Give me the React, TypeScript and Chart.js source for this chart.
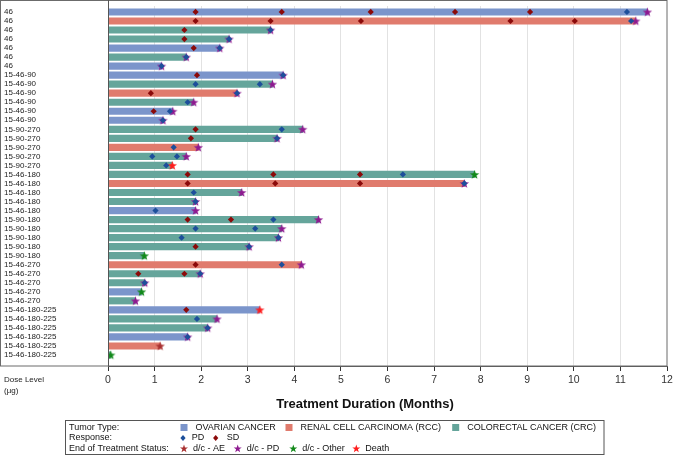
import React, { useEffect, useRef } from "react";
import { Chart, registerables } from "chart.js";

Chart.register(...registerables);

// ---------- DATA ----------
const doseLabels = [
  "46", "46", "46", "46", "46", "46", "46",
  "15-46-90", "15-46-90", "15-46-90", "15-46-90", "15-46-90", "15-46-90",
  "15-90-270", "15-90-270", "15-90-270", "15-90-270", "15-90-270",
  "15-46-180", "15-46-180", "15-46-180", "15-46-180", "15-46-180",
  "15-90-180", "15-90-180", "15-90-180", "15-90-180", "15-90-180",
  "15-46-270", "15-46-270", "15-46-270", "15-46-270", "15-46-270",
  "15-46-180-225", "15-46-180-225", "15-46-180-225", "15-46-180-225", "15-46-180-225", "15-46-180-225",
];

// O = ovarian, R = RCC, C = CRC
const tumorTypes = [
  "O", "R", "C", "C", "O", "C", "O",
  "O", "C", "R", "C", "O", "O",
  "C", "C", "R", "C", "C",
  "C", "R", "C", "C", "O",
  "C", "C", "C", "C", "C",
  "R", "C", "C", "O", "C",
  "O", "C", "C", "O", "R", "C",
];

const durations = [
  11.58, 11.33, 3.49, 2.6, 2.4, 1.68, 1.15,
  3.76, 3.53, 2.77, 1.84, 1.39, 1.18,
  4.18, 3.63, 1.94, 1.68, 1.38,
  7.87, 7.65, 2.87, 1.88, 1.88,
  4.52, 3.73, 3.66, 3.03, 0.78,
  4.15, 1.98, 0.79, 0.72, 0.59,
  3.26, 2.34, 2.14, 1.71, 1.12, 0.06,
];

// AE = d/c - AE, PD = d/c - PD, OT = d/c - Other, DE = Death
const endStatus = [
  "PD", "PD", "PD", "PD", "PD", "PD", "PD",
  "PD", "PD", "PD", "PD", "PD", "PD",
  "PD", "PD", "PD", "PD", "DE",
  "OT", "PD", "PD", "PD", "PD",
  "PD", "PD", "PD", "PD", "OT",
  "PD", "PD", "PD", "OT", "PD",
  "DE", "PD", "PD", "PD", "AE", "OT",
];

const pdTimes: number[][] = [
  [11.14], [11.23], [3.49], [2.6], [2.4], [1.68], [1.15],
  [3.76], [1.88, 3.26], [2.77], [1.71], [1.33], [1.18],
  [3.73], [3.63], [1.41], [0.95, 1.48], [1.25],
  [6.33], [7.65], [1.84], [1.88], [1.02],
  [3.55], [1.88, 3.16], [1.58, 3.66], [3.03], [],
  [3.73], [1.98], [0.79], [], [],
  [], [1.91], [2.14], [1.71], [], [],
];

const sdTimes: number[][] = [
  [1.88, 3.73, 5.64, 7.45, 9.06], [1.88, 3.49, 5.43, 8.64, 10.02], [1.64], [1.64], [1.84], [], [],
  [1.91], [], [0.92], [], [0.98], [],
  [1.88], [1.78], [], [], [],
  [1.71, 3.55, 5.41], [1.71, 3.59, 5.41], [], [], [],
  [1.71, 2.64], [], [], [1.88], [],
  [1.88], [0.65, 1.64], [], [], [],
  [1.68], [], [], [], [], [],
];

const xTickValues = [0, 1, 2, 3, 4, 5, 6, 7, 8, 9, 10, 11, 12];

// ---------- STYLE ----------
const tumorColors: Record<string, string> = { O: "#7b95cb", R: "#e07b6d", C: "#65a59b" };
const tumorNames: Record<string, string> = {
  O: "OVARIAN CANCER",
  R: "RENAL CELL CARCINOMA (RCC)",
  C: "COLORECTAL CANCER (CRC)",
};
const PD_COLOR = "#1d4f9b";
const SD_COLOR = "#8b0a0a";
const statusColors: Record<string, string> = { AE: "#a83030", PD: "#8e1a90", OT: "#12891a", DE: "#ff1c1c" };
const statusNames: Record<string, string> = { AE: "d/c - AE", PD: "d/c - PD", OT: "d/c - Other", DE: "Death" };
const FONT = "'Liberation Sans', Arial, sans-serif";

function drawStarPath(ctx: CanvasRenderingContext2D, cx: number, cy: number, ro: number, ri: number) {
  ctx.beginPath();
  for (let i = 0; i < 10; i++) {
    const r = i % 2 === 0 ? ro : ri;
    const a = -Math.PI / 2 + (i * Math.PI) / 5;
    const x = cx + r * Math.cos(a);
    const y = cy + r * Math.sin(a);
    if (i === 0) ctx.moveTo(x, y);
    else ctx.lineTo(x, y);
  }
  ctx.closePath();
}

function makeStar(color: string, size = 11, ro = 4.9, ri = 2.0) {
  const c = document.createElement("canvas");
  c.width = size;
  c.height = size;
  const ctx = c.getContext("2d")!;
  ctx.fillStyle = color;
  drawStarPath(ctx, size / 2, size / 2 + 0.4, ro, ri);
  ctx.fill();
  return c;
}

export default function App() {
  const ref = useRef<HTMLCanvasElement | null>(null);

  useEffect(() => {
    if (!ref.current) return;
    const idx = doseLabels.map((_, i) => i);

    const barData = idx.map((i) => ({ x: durations[i], y: i }));
    const pdData: { x: number; y: number }[] = [];
    const sdData: { x: number; y: number }[] = [];
    idx.forEach((i) => {
      pdTimes[i].forEach((t) => pdData.push({ x: t, y: i }));
      sdTimes[i].forEach((t) => sdData.push({ x: t, y: i }));
    });

    const statusDatasets = ["AE", "PD", "OT", "DE"].map((s) => ({
      type: "scatter" as const,
      label: statusNames[s],
      data: idx.filter((i) => endStatus[i] === s).map((i) => ({ x: durations[i], y: i })),
      pointStyle: makeStar(statusColors[s]) as any,
      pointRadius: 5,
      order: 1,
    }));

    const framePlugin = {
      id: "framePlugin",
      afterDraw(chart: any) {
        const ctx: CanvasRenderingContext2D = chart.ctx;
        const ca = chart.chartArea;
        ctx.save();
        // outer frame
        ctx.strokeStyle = "#6b6b6b";
        ctx.lineWidth = 1;
        ctx.strokeRect(0.5, 0.5, ca.right - 0.5, ca.bottom - 0.5);
        ctx.strokeStyle = "#555";
        ctx.beginPath();
        ctx.moveTo(ca.left + 0.5, 0);
        ctx.lineTo(ca.left + 0.5, ca.bottom);
        ctx.stroke();

        // dose level label
        ctx.fillStyle = "#222";
        ctx.font = `8px ${FONT}`;
        ctx.textAlign = "left";
        ctx.textBaseline = "middle";
        ctx.fillText("Dose Level", 4, 380);
        ctx.fillText("(µg)", 4, 391);

        // axis title
        ctx.font = `bold 13px ${FONT}`;
        ctx.textAlign = "center";
        ctx.fillStyle = "#111";
        ctx.fillText("Treatment Duration (Months)", 365, 404);

        // legend box
        ctx.strokeStyle = "#555";
        ctx.lineWidth = 1;
        ctx.strokeRect(65.5, 420.5, 538.5, 34);
        ctx.font = `9px ${FONT}`;
        ctx.textAlign = "left";
        ctx.fillStyle = "#111";
        const r1 = 427.5, r2 = 438, r3 = 448.5;
        ctx.fillText("Tumor Type:", 69, r1);
        ctx.fillText("Response:", 69, r2);
        ctx.fillText("End of Treatment Status:", 69, r3);

        const tumorPos: [string, number][] = [["O", 184], ["R", 289], ["C", 455.7]];
        tumorPos.forEach(([k, x]) => {
          ctx.fillStyle = tumorColors[k];
          ctx.fillRect(x - 3.5, r1 - 3.5, 7, 7);
          ctx.fillStyle = "#111";
          ctx.fillText(tumorNames[k], x + 11.5, r1);
        });

        const diamond = (x: number, y: number, color: string) => {
          ctx.fillStyle = color;
          ctx.beginPath();
          ctx.moveTo(x, y - 3);
          ctx.lineTo(x + 2.6, y);
          ctx.lineTo(x, y + 3);
          ctx.lineTo(x - 2.6, y);
          ctx.closePath();
          ctx.fill();
        };
        diamond(183, r2, PD_COLOR);
        ctx.fillStyle = "#111";
        ctx.fillText("PD", 191.7, r2);
        diamond(215.7, r2, SD_COLOR);
        ctx.fillStyle = "#111";
        ctx.fillText("SD", 226.7, r2);

        const statusPos: [string, number][] = [["AE", 184], ["PD", 237.7], ["OT", 293.3], ["DE", 356.3]];
        statusPos.forEach(([k, x]) => {
          ctx.fillStyle = statusColors[k];
          drawStarPath(ctx, x, r3 + 0.3, 4.2, 1.7);
          ctx.fill();
          ctx.fillStyle = "#111";
          ctx.fillText(statusNames[k], x + 9, r3);
        });
        ctx.restore();
      },
    };

    const chart = new Chart(ref.current, {
      type: "bar",
      data: {
        datasets: [
          {
            type: "scatter" as const,
            label: "PD",
            data: pdData,
            pointStyle: "rectRot",
            pointRadius: 3.1,
            backgroundColor: PD_COLOR,
            borderColor: PD_COLOR,
            borderWidth: 0,
            order: 0,
          } as any,
          {
            type: "scatter" as const,
            label: "SD",
            data: sdData,
            pointStyle: "rectRot",
            pointRadius: 3.1,
            backgroundColor: SD_COLOR,
            borderColor: SD_COLOR,
            borderWidth: 0,
            order: 0,
          } as any,
          ...(statusDatasets as any[]),
          {
            type: "bar" as const,
            label: "Duration",
            data: barData,
            backgroundColor: idx.map((i) => tumorColors[tumorTypes[i]]),
            borderWidth: 0,
            barThickness: 6.5,
            order: 2,
          } as any,
        ],
      },
      options: {
        indexAxis: "y",
        animation: false,
        responsive: false,
        maintainAspectRatio: false,
        layout: { padding: { left: 4, top: 1, right: 7, bottom: 0 } },
        plugins: { legend: { display: false }, tooltip: { enabled: false } },
        scales: {
          x: {
            type: "linear",
            min: 0,
            max: 12,
            offset: false,
            afterBuildTicks: (s: any) => {
              s.ticks = xTickValues.map((v) => ({ value: v }));
            },
            afterFit: (s: any) => {
              s.height = 90;
              s.paddingLeft = 0;
              s.paddingRight = 0;
            },
            grid: {
              offset: false,
              color: (c: any) => (c.tick && (c.tick.value === 0 || c.tick.value === 12) ? "rgba(0,0,0,0)" : "#e2e2e2"),
              tickColor: "#333",
              tickLength: 5,
              drawOnChartArea: true,
            },
            border: { display: true, color: "#555", width: 1 },
            ticks: {
              font: { family: FONT, size: 10.5 },
              color: "#333",
              padding: 3,
              maxRotation: 0,
              autoSkip: false,
            },
          },
          y: {
            type: "linear",
            reverse: true,
            min: -0.66,
            max: 39.22,
            offset: false,
            afterBuildTicks: (s: any) => {
              s.ticks = doseLabels.map((_, i) => ({ value: i }));
            },
            afterFit: (s: any) => {
              s.width = 104;
              s.paddingTop = 0;
              s.paddingBottom = 0;
            },
            grid: { display: false, drawTicks: false, offset: false },
            border: { display: true, color: "#555", width: 1 },
            ticks: {
              crossAlign: "far",
              autoSkip: false,
              font: { family: FONT, size: 8 },
              color: "#222",
              padding: 0,
              callback: (v: any) => doseLabels[Number(v)] ?? "",
            },
          },
        },
      } as any,
      plugins: [framePlugin],
    });

    return () => chart.destroy();
  }, []);

  return (
    <div style={{ position: "fixed", left: 0, top: 0, width: 674, height: 456, background: "#fff" }}>
      <canvas ref={ref} width={674} height={456} style={{ display: "block" }} />
    </div>
  );
}
